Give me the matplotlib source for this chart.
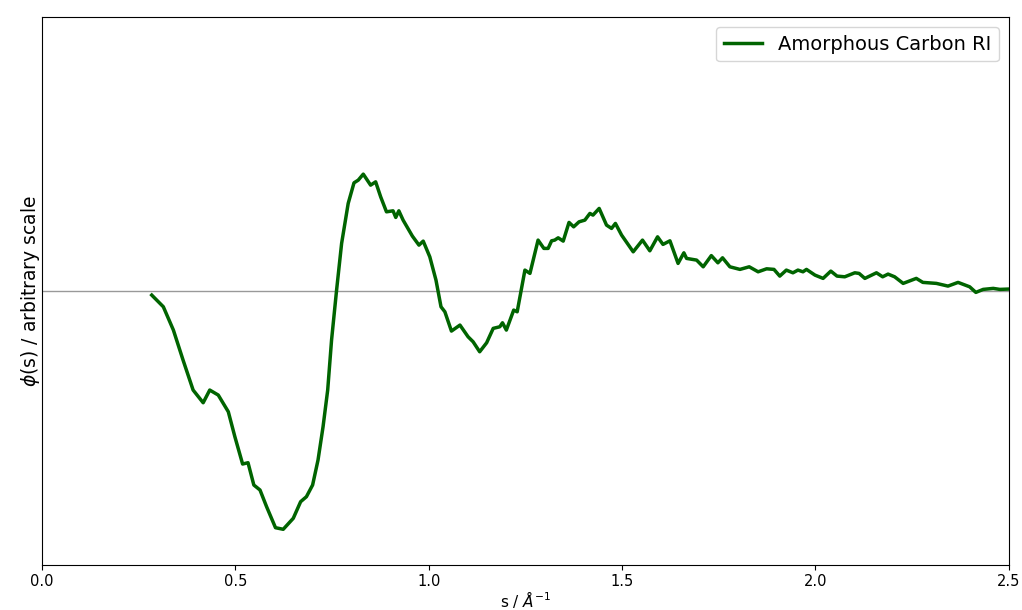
import matplotlib
matplotlib.use("Agg")
import matplotlib.pyplot as plt

# Scattering variable s (1/Angstrom) and reduced intensity phi(s), arbitrary units
s = [0.284, 0.314, 0.340, 0.365, 0.391, 0.417, 0.434, 0.456, 0.482, 0.499,
     0.519, 0.533, 0.548, 0.564, 0.581, 0.604, 0.624, 0.650, 0.669, 0.684,
     0.700, 0.714, 0.727, 0.739, 0.749, 0.762, 0.775, 0.792, 0.807, 0.818,
     0.831, 0.850, 0.863, 0.876, 0.891, 0.908, 0.915, 0.923, 0.934, 0.958,
     0.975, 0.986, 1.003, 1.019, 1.032, 1.042, 1.059, 1.081, 1.102, 1.115,
     1.132, 1.150, 1.167, 1.184, 1.191, 1.201, 1.220, 1.229, 1.249, 1.262,
     1.283, 1.298, 1.309, 1.318, 1.326, 1.335, 1.348, 1.363, 1.375, 1.389,
     1.404, 1.417, 1.425, 1.441, 1.460, 1.473, 1.483, 1.499, 1.529, 1.553,
     1.572, 1.592, 1.606, 1.624, 1.645, 1.660, 1.667, 1.693, 1.710, 1.731,
     1.748, 1.760, 1.779, 1.805, 1.829, 1.852, 1.874, 1.893, 1.908, 1.925,
     1.942, 1.955, 1.968, 1.977, 1.999, 2.020, 2.040, 2.056, 2.076, 2.102,
     2.113, 2.128, 2.158, 2.174, 2.188, 2.205, 2.227, 2.261, 2.278, 2.313,
     2.343, 2.369, 2.399, 2.415, 2.434, 2.460, 2.477, 2.498]

phi = [-0.040, -0.157, -0.390, -0.690, -0.990, -1.117, -0.990, -1.040, -1.207, -1.457,
       -1.730, -1.717, -1.940, -1.990, -2.157, -2.367, -2.383, -2.273, -2.107, -2.057,
       -1.940, -1.690, -1.357, -0.990, -0.490, 0.010, 0.477, 0.877, 1.083, 1.110,
       1.170, 1.060, 1.093, 0.943, 0.793, 0.803, 0.737, 0.803, 0.710, 0.550,
       0.460, 0.500, 0.343, 0.110, -0.157, -0.207, -0.400, -0.340, -0.457, -0.507,
       -0.607, -0.517, -0.373, -0.357, -0.317, -0.390, -0.190, -0.207, 0.210, 0.177,
       0.510, 0.427, 0.427, 0.503, 0.510, 0.533, 0.500, 0.687, 0.643, 0.693,
       0.710, 0.777, 0.760, 0.827, 0.660, 0.627, 0.677, 0.560, 0.393, 0.510,
       0.403, 0.543, 0.467, 0.503, 0.277, 0.383, 0.327, 0.310, 0.243, 0.355,
       0.283, 0.333, 0.243, 0.217, 0.243, 0.193, 0.223, 0.217, 0.150, 0.210,
       0.183, 0.210, 0.193, 0.217, 0.160, 0.127, 0.200, 0.150, 0.143, 0.183,
       0.177, 0.127, 0.183, 0.143, 0.170, 0.143, 0.077, 0.127, 0.087, 0.077,
       0.050, 0.087, 0.043, -0.013, 0.017, 0.027, 0.017, 0.020]

xticks = [0.0, 0.5, 1.0, 1.5, 2.0, 2.5]

fig = plt.figure(figsize=(10.22, 6.10), dpi=100)
ax = fig.add_axes([0.041, 0.0738, 0.946, 0.898])

ax.axhline(0, color="gray", linewidth=1.0, alpha=0.8)
ax.plot(s, phi, color="darkgreen", linewidth=2.5, label="Amorphous Carbon RI")

ax.set_xlim(0, 2.5)
ax.set_ylim(-2.74, 2.74)
ax.set_xticks(xticks)
ax.set_xticklabels([f"{t:.1f}" for t in xticks])
ax.set_yticks([])
ax.tick_params(axis="x", labelsize=10.5, pad=3)

ax.set_xlabel(r"s / $\AA^{-1}$", fontsize=11, labelpad=0)
ax.set_ylabel(r"$\phi$(s) / arbitrary scale", fontsize=13.5, labelpad=0)
ax.legend(loc="upper right", fontsize=14)

fig.savefig("out.png", dpi=100)
